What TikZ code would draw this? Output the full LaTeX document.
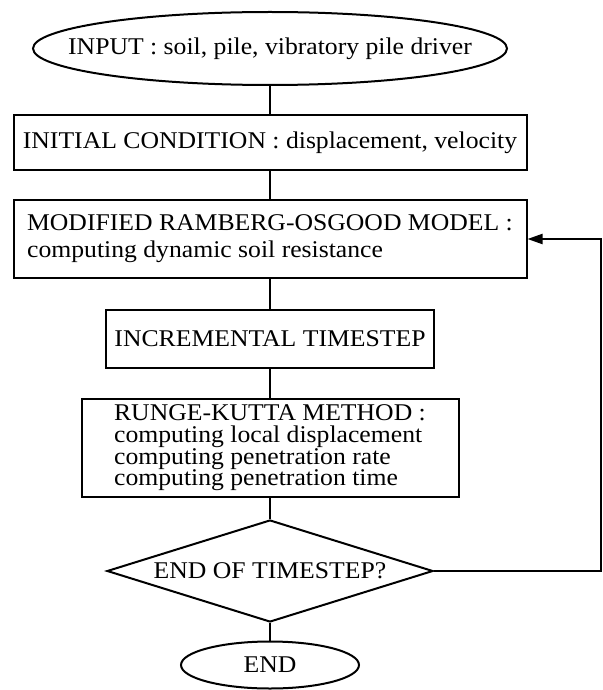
\documentclass[tikz,border=0pt]{standalone}
\usepackage{fontspec}
\setmainfont{Liberation Serif}[FakeStretch=1.07]
\usepackage{tikz}
\usetikzlibrary{shapes.geometric,arrows.meta}

\begin{document}
\begin{tikzpicture}[
        x=0.5pt, y=-0.5pt,
        every node/.style = {font=\fontsize{12}{13.5}\selectfont},
        box/.style = {draw, rectangle, line width=1pt, inner sep=3pt},
        term/.style = {draw, ellipse, line width=1pt, inner xsep=-40pt, inner ysep=0pt},
        test/.style = {draw, diamond, aspect=3.2, line width=1pt, inner sep=0pt},
        link/.style = {line width=1pt},
        arrow/.style = {-{Triangle[length=7.5pt, width=5pt]}, line width=1pt}
    ]
    \useasboundingbox (0,0) rectangle (603,690);

    % Start of the computation
    \node[term, minimum width=237pt, minimum height=36.5pt] (input) at (270,48.5) {INPUT : soil, pile, vibratory pile driver};

    % Steps of the main loop
    \node[box, minimum width=256.5pt, minimum height=27.5pt] (init) at (270,142.5) {INITIAL CONDITION : displacement, velocity};
    \node[box, minimum width=256.5pt, minimum height=39pt, align=left] (model) at (270,239) {MODIFIED RAMBERG-OSGOOD MODEL :\\computing dynamic soil resistance};
    \node[box, minimum width=164pt, minimum height=29pt] (incr) at (270,339) {INCREMENTAL TIMESTEP};
    \node[box, minimum width=188.5pt, minimum height=48pt, align=left, font=\fontsize{12}{10.8}\selectfont] (rk) at (270,448) {RUNGE-KUTTA METHOD :\\computing local displacement\\computing penetration rate\\computing penetration time};

    % Decision and end
    \node[test, minimum width=163pt, minimum height=51pt] (check) at (270,571) {END OF TIMESTEP?};
    \node[term, inner xsep=0pt, minimum width=89pt, minimum height=23.5pt] (stop) at (270,665) {END};

    % Connect the steps
    \draw[link] (input) -- (init);
    \draw[link] (init) -- (model);
    \draw[link] (model) -- (incr);
    \draw[link] (incr) -- (rk);
    \draw[link] (rk) -- (check);
    \draw[link] (check) -- (stop);

    % Loop back to the soil model
    \coordinate (back) at (601,571);
    \draw[arrow] (check.east) -- (back) |- (model.east);

\end{tikzpicture}
\end{document}
